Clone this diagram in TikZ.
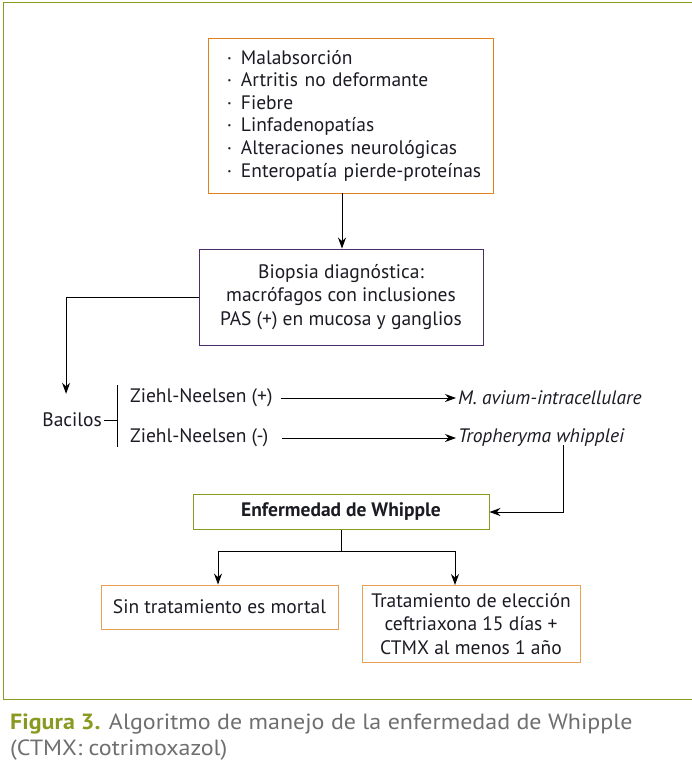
\documentclass[tikz,border=0pt]{standalone}
\usepackage{fontspec}
\setmainfont{PT Sans}
\newfontfamily\capfont[FakeStretch=1.09]{PT Sans}
\usepackage{xcolor}
\usepackage{tikz}
\usetikzlibrary{arrows.meta,positioning,calc}
\definecolor{olivo}{HTML}{8A9A20}
\definecolor{naranja}{HTML}{E0821A}
\definecolor{naranjaclaro}{HTML}{E9A055}
\definecolor{morado}{HTML}{4B2D6C}
\definecolor{tinta}{HTML}{1B1B24}
\definecolor{gris}{HTML}{6F6F6F}
\tikzset{
  caja/.style={draw,line width=0.9pt,align=center,inner sep=0pt,text=tinta,
    font=\fontsize{19.5}{23.3}\selectfont},
  texto/.style={inner sep=2pt,text=tinta,font=\fontsize{19.5}{23.3}\selectfont},
  arr/.style={-{Stealth[length=11pt,width=8pt]},line width=1pt,draw=black},
  linea/.style={line width=1pt,draw=black}
}
\newcommand{\punto}{\makebox[23pt][c]{\textperiodcentered}}

\begin{document}
\begin{tikzpicture}[x=1pt,y=-1pt]
  \clip (0,0) rectangle (692,779);
  \fill[white] (0,0) rectangle (692,779);
  \draw[olivo,line width=1pt] (3,2) rectangle (720,699);

  \node[caja,draw=naranja,minimum width=285pt,minimum height=155pt,
    text width=265pt,align=left,font=\fontsize{19.5}{22.6}\selectfont] (sintomas) at (350.5,115.5)
    {\punto Malabsorción\\ \punto Artritis no deformante\\ \punto Fiebre\\
     \punto Linfadenopatías\\ \punto Alteraciones neurológicas\\
     \punto Enteropatía pierde-proteínas};
  \node[caja,draw=morado,minimum width=284pt,minimum height=96pt] (biopsia) at (341,297)
    {Biopsia diagnóstica:\\macrófagos con inclusiones\\PAS (+) en mucosa y ganglios};
  \draw[arr] (sintomas.south -| 342,0) -- (biopsia.north -| 342,0);

  \node[texto,anchor=east] (bacilos) at (104,420) {Bacilos};
  \node[texto,anchor=west] (znpos) at (128,398) {Ziehl-Neelsen (+)};
  \node[texto,anchor=west] (znneg) at (128,438) {Ziehl-Neelsen (-)};
  \node[texto,anchor=west,font=\fontsize{19.5}{23}\selectfont\itshape] (avium) at (456,398) {M. avium-intracellulare};
  \node[texto,anchor=west,font=\fontsize{19.5}{23}\selectfont\itshape] (whipplei) at (456,438) {Tropheryma whipplei};
  \draw[arr] (biopsia.west) -| ([xshift=-6pt,yshift=17pt]bacilos.north);
  \draw[linea] (117,385) coordinate (llave1) -- (117,447) coordinate (llave2);
  \draw[linea] (bacilos.east) -- (bacilos.east -| llave1);
  \draw[arr] ([xshift=6pt]znpos.east) -- (avium.west);
  \draw[arr] ([xshift=12pt]znneg.east) -- (avium.west |- znneg.east);

  \node[caja,draw=olivo,minimum width=296pt,minimum height=35pt,
    font=\fontsize{19.5}{23}\selectfont\bfseries] (whipple) at (341,512) {Enfermedad de Whipple};
  \draw[arr] ([xshift=22pt,yshift=4pt]whipplei.south) |- (whipple.east);

  \node[caja,draw=naranjaclaro,minimum width=237pt,minimum height=44pt] (sintrat) at (219.5,607)
    {Sin tratamiento es mortal};
  \node[caja,draw=naranjaclaro,minimum width=218pt,minimum height=77pt,anchor=north] (trat) at (471,585)
    {Tratamiento de elección\\ceftriaxona 15 días +\\CTMX al menos 1 año};
  \draw[linea] (whipple.south) -- ++(0,22) coordinate (rama);
  \draw[arr] (rama) -| ([xshift=-1.5pt]sintrat.north);
  \draw[arr] (rama) -| ([xshift=-16pt]trat.north);

  \node[anchor=north west,align=left,inner sep=0pt,text=gris,
    font=\capfont\fontsize{22}{26}\selectfont] (pie) at (10,714)
    {{\color{olivo}\bfseries Figura 3.} Algoritmo de manejo de la enfermedad de Whipple\\(CTMX: cotrimoxazol)};
\end{tikzpicture}
\end{document}
